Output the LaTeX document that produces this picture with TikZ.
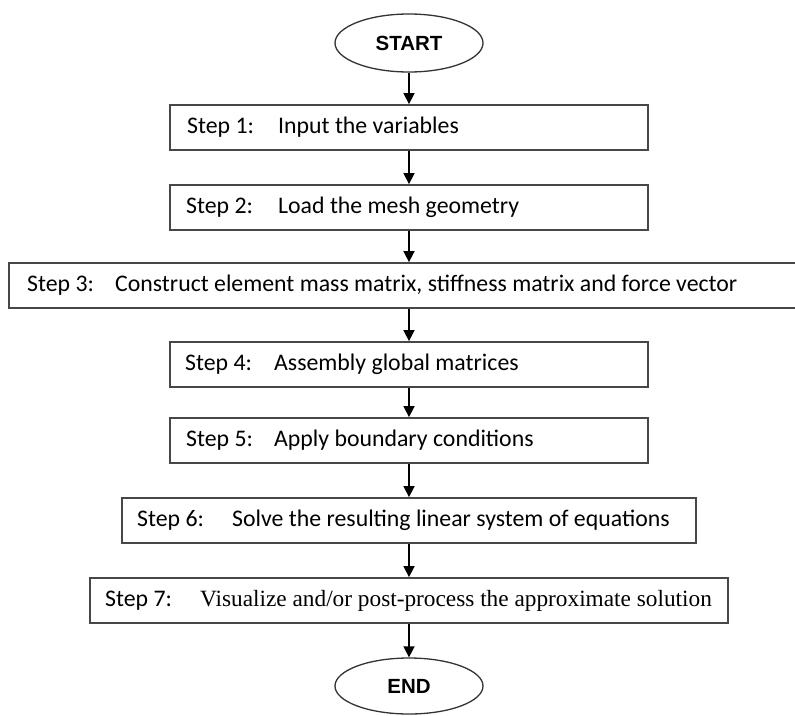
\documentclass[tikz,border=0pt]{standalone}
\usepackage{fontspec}
\setmainfont{Carlito}
\newfontfamily\serifA{Liberation Serif}
\newfontfamily\sansB{Liberation Sans}
\usetikzlibrary{shapes.geometric,arrows.meta}
\begin{document}
\begin{tikzpicture}[x=1pt,y=-1pt,
  stepbox/.style={draw=black!72, line width=1.8pt, minimum height=45pt, inner sep=0pt},
  term/.style={ellipse, draw=black!80, line width=1.3pt, inner sep=0pt,
    minimum width=148pt, font=\sansB\bfseries\fontsize{20.5}{24}\selectfont},
  flow/.style={-{Triangle[length=11pt,width=11pt]}, line width=1.6pt, black},
  lbl/.style={anchor=west, inner sep=0pt, font=\fontsize{23.8}{28}\selectfont}
]
\useasboundingbox (0,0) rectangle (795,715);
\fill[white] (0,0) rectangle (795,715);

\node[term, minimum height=58pt] (start) at (409,43) {START};
\node[term, minimum height=56pt] (end) at (409,686) {END};

\node[stepbox, minimum width=478pt] (s1) at (409,127.5) {};
\node[stepbox, minimum width=478pt] (s2) at (409,207.5) {};
\node[stepbox, minimum width=800pt] (s3) at (409,285.5) {};
\node[stepbox, minimum width=478pt] (s4) at (409,364.5) {};
\node[stepbox, minimum width=478pt] (s5) at (409,440.5) {};
\node[stepbox, minimum width=574pt] (s6) at (409,520.5) {};
\node[stepbox, minimum width=638pt] (s7) at (409,600.5) {};

\node[lbl] (t1) at (187,127.5) {\makebox[91pt][l]{Step 1:}Input the variables};
\node[lbl] (t2) at (186,207.5) {\makebox[92pt][l]{Step 2:}Load the mesh geometry};
\node[lbl] (t3) at (27,285.5) {\makebox[88pt][l]{Step 3:}Construct element mass matrix, stiffness matrix and force vector};
\node[lbl] (t4) at (185,364.5) {\makebox[89pt][l]{Step 4:}Assembly global matrices};
\node[lbl] (t5) at (186,440.5) {\makebox[88pt][l]{Step 5:}Apply boundary conditions};
\node[lbl] (t6) at (137,520.5) {\makebox[95pt][l]{Step 6:}Solve the resulting linear system of equations};
\node[lbl] (t7) at (105,600.5) {\makebox[95pt][l]{Step 7:}{\serifA\fontsize{23.3}{27}\selectfont Visualize and/or post-process the approximate solution}};

\draw[flow] (start) -- (s1);
\draw[flow] (s1) -- (s2);
\draw[flow] (s2) -- (s3);
\draw[flow] (s3) -- (s4);
\draw[flow] (s4) -- (s5);
\draw[flow] (s5) -- (s6);
\draw[flow] (s6) -- (s7);
\draw[flow] (s7) -- (end);
\end{tikzpicture}
\end{document}
